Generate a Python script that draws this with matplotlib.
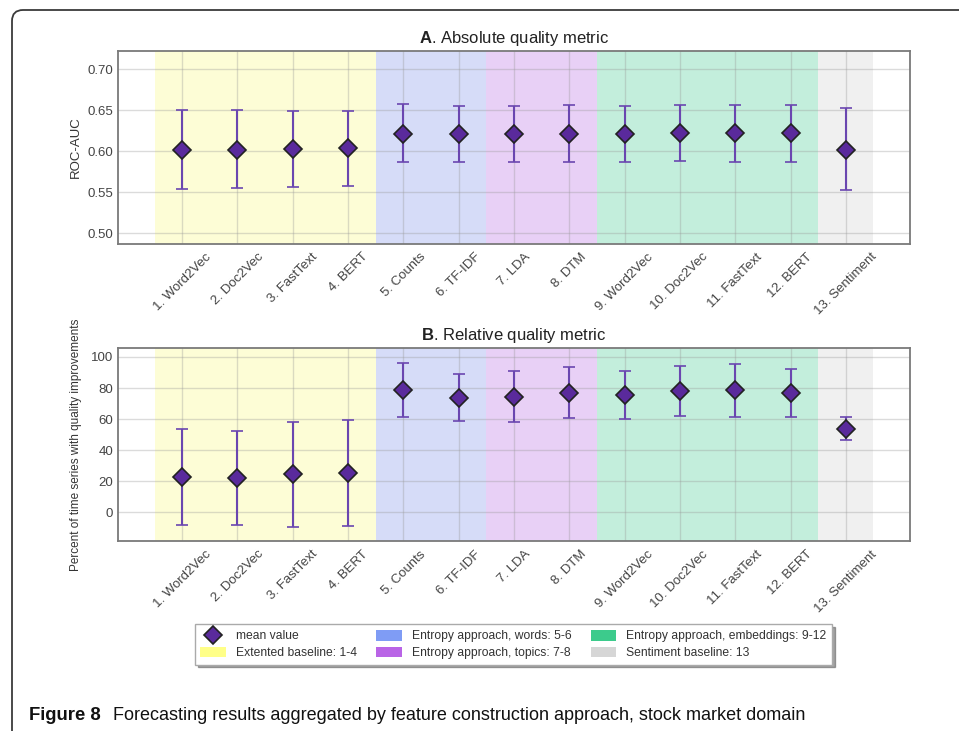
import matplotlib
matplotlib.use("Agg")
import matplotlib.pyplot as plt
from matplotlib.patches import Patch, FancyBboxPatch
from matplotlib.lines import Line2D
from matplotlib.transforms import IdentityTransform
import numpy as np

plt.rcParams['font.family'] = ['Liberation Sans', 'DejaVu Sans']
plt.rcParams['mathtext.fontset'] = 'custom'
plt.rcParams['mathtext.rm'] = 'Liberation Sans'
plt.rcParams['mathtext.bf'] = 'Liberation Sans:bold'

# ---- data ----
categories = ["1. Word2Vec", "2. Doc2Vec", "3. FastText", "4. BERT",
              "5. Counts", "6. TF-IDF", "7. LDA", "8. DTM",
              "9. Word2Vec", "10. Doc2Vec", "11. FastText", "12. BERT",
              "13. Sentiment"]

auc_mean = [0.602, 0.602, 0.603, 0.6035, 0.6215, 0.621, 0.621, 0.621,
            0.621, 0.6225, 0.622, 0.622, 0.602]
auc_low = [0.554, 0.555, 0.557, 0.558, 0.587, 0.587, 0.587, 0.587,
           0.587, 0.588, 0.587, 0.587, 0.5525]
auc_high = [0.650, 0.650, 0.6495, 0.649, 0.657, 0.6555, 0.6555, 0.6557,
            0.6555, 0.6565, 0.656, 0.656, 0.652]

rel_mean = [22.5, 21.9, 24.5, 25.3, 78.5, 73.4, 74.5, 77.0,
            75.5, 78.3, 78.5, 77.0, 53.8]
rel_low = [-8.2, -8.4, -9.2, -9.0, 61.4, 58.8, 57.9, 60.9,
           60.1, 62.0, 61.6, 61.2, 46.6]
rel_high = [53.6, 52.6, 58.1, 59.6, 96.1, 88.8, 91.0, 93.3,
            91.0, 94.2, 95.3, 92.5, 61.4]

# feature groups: (first index, last index, legend label)
groups = [(0, 3, "Extented baseline: 1-4"),
          (4, 5, "Entropy approach, words: 5-6"),
          (6, 7, "Entropy approach, topics: 7-8"),
          (8, 11, "Entropy approach, embeddings: 9-12"),
          (12, 12, "Sentiment baseline: 13")]
span_colors = ["#fdfdd6", "#d6dcf8", "#e8d0f6", "#c3eedc", "#f0f0f0"]
patch_colors = ["#ffff88", "#7f9cf5", "#b964e6", "#3ccb8c", "#d6d6d6"]

W, H = 959, 731
fig = plt.figure(figsize=(W / 100, H / 100), dpi=100)

# outer rounded frame (pixel coordinates)
frame = FancyBboxPatch((12, -200), 2000, H - 10 + 200,
                       boxstyle="round,pad=0,rounding_size=11",
                       transform=IdentityTransform(), fill=False,
                       edgecolor="#3a3a3a", linewidth=1.3)
fig.add_artist(frame)

ax_left, ax_w = 118 / W, (910 - 118) / W
ax1 = fig.add_axes([ax_left, 1 - 244 / H, ax_w, (244 - 51) / H])
ax2 = fig.add_axes([ax_left, 1 - 541.3 / H, ax_w, (541.3 - 348.3) / H])

x = np.arange(len(categories))


def draw(ax, mean, low, high, ylim, yticks, fmt, ylabel, ylabel_size, title_letter, title_rest):
    mean = np.array(mean)
    yerr = [mean - np.array(low), np.array(high) - mean]
    ax.set_axisbelow(True)
    for (a, b, _), c in zip(groups, span_colors):
        ax.axvspan(a - 0.5, b + 0.5, color=c, zorder=0.3, lw=0)
    ax.grid(True, color="#999999", linewidth=1.0, alpha=0.35)
    ax.errorbar(x, mean, yerr=yerr, fmt="D", color="#6a46b0", ecolor="#6a46b0",
                elinewidth=1.5, capsize=4.5, capthick=1.5,
                markersize=9, markerfacecolor="#5a2a9c", markeredgecolor="#222222",
                markeredgewidth=1.2, zorder=3)
    ax.set_xlim(-1.16, 13.16)
    ax.set_ylim(*ylim)
    ax.set_yticks(yticks)
    ax.set_yticklabels([fmt.format(v) for v in yticks])
    ax.set_xticks(x)
    ax.set_xticklabels(categories, rotation=45, ha="center")
    ax.tick_params(axis="both", length=0, labelcolor="#444444", labelsize=9.5)
    ax.tick_params(axis="x", pad=5)
    for s in ax.spines.values():
        s.set_color("#7a7a7a")
        s.set_linewidth(1.3)
    ax.set_ylabel(ylabel, fontsize=ylabel_size, color="#333333")
    ax.set_title(r"$\bf{" + title_letter + "}$" + title_rest, fontsize=12,
                 color="#222222", pad=6)


draw(ax1, auc_mean, auc_low, auc_high, (0.487, 0.722),
     [0.50, 0.55, 0.60, 0.65, 0.70], "{:.2f}", "ROC-AUC", 9.5,
     "A", ". Absolute quality metric")
draw(ax2, rel_mean, rel_low, rel_high, (-18.7, 105.6),
     [0, 20, 40, 60, 80, 100], "{:d}", "Percent of time series with quality improvements", 8.5,
     "B", ". Relative quality metric")
ax1.yaxis.set_label_coords(-0.046, 0.5)
ax2.yaxis.set_label_coords(-0.046, 0.5)

# legend
handles = [Line2D([], [], marker="D", linestyle="none", markersize=9,
                  markerfacecolor="#5a2a9c", markeredgecolor="#222222",
                  markeredgewidth=1.2, label="mean value")]
for (_, _, lab), c in zip(groups, patch_colors):
    handles.append(Patch(facecolor=c, edgecolor="none", label=lab))
leg = fig.legend(handles=handles, loc="center", bbox_to_anchor=(513.5 / W, 1 - 644.5 / H),
                 ncol=3, fontsize=8.7, frameon=True, shadow=True, fancybox=False,
                 handlelength=2.1, handleheight=1.0, handletextpad=0.85,
                 columnspacing=1.6, labelspacing=0.35, borderpad=0.45)
leg.get_frame().set_edgecolor("#aaaaaa")
for t in leg.get_texts():
    t.set_color("#333333")

# caption: bold figure number followed by the description
cap_y = 1 - 720 / H
fig.text(29 / W, cap_y, "Figure 8", fontsize=13.3, fontweight="bold",
         color="#111111", va="baseline", ha="left")
fig.text(113 / W, cap_y,
         "Forecasting results aggregated by feature construction approach, stock market domain",
         fontsize=13.0, color="#111111", va="baseline", ha="left")

fig.savefig("out.png", dpi=100)
